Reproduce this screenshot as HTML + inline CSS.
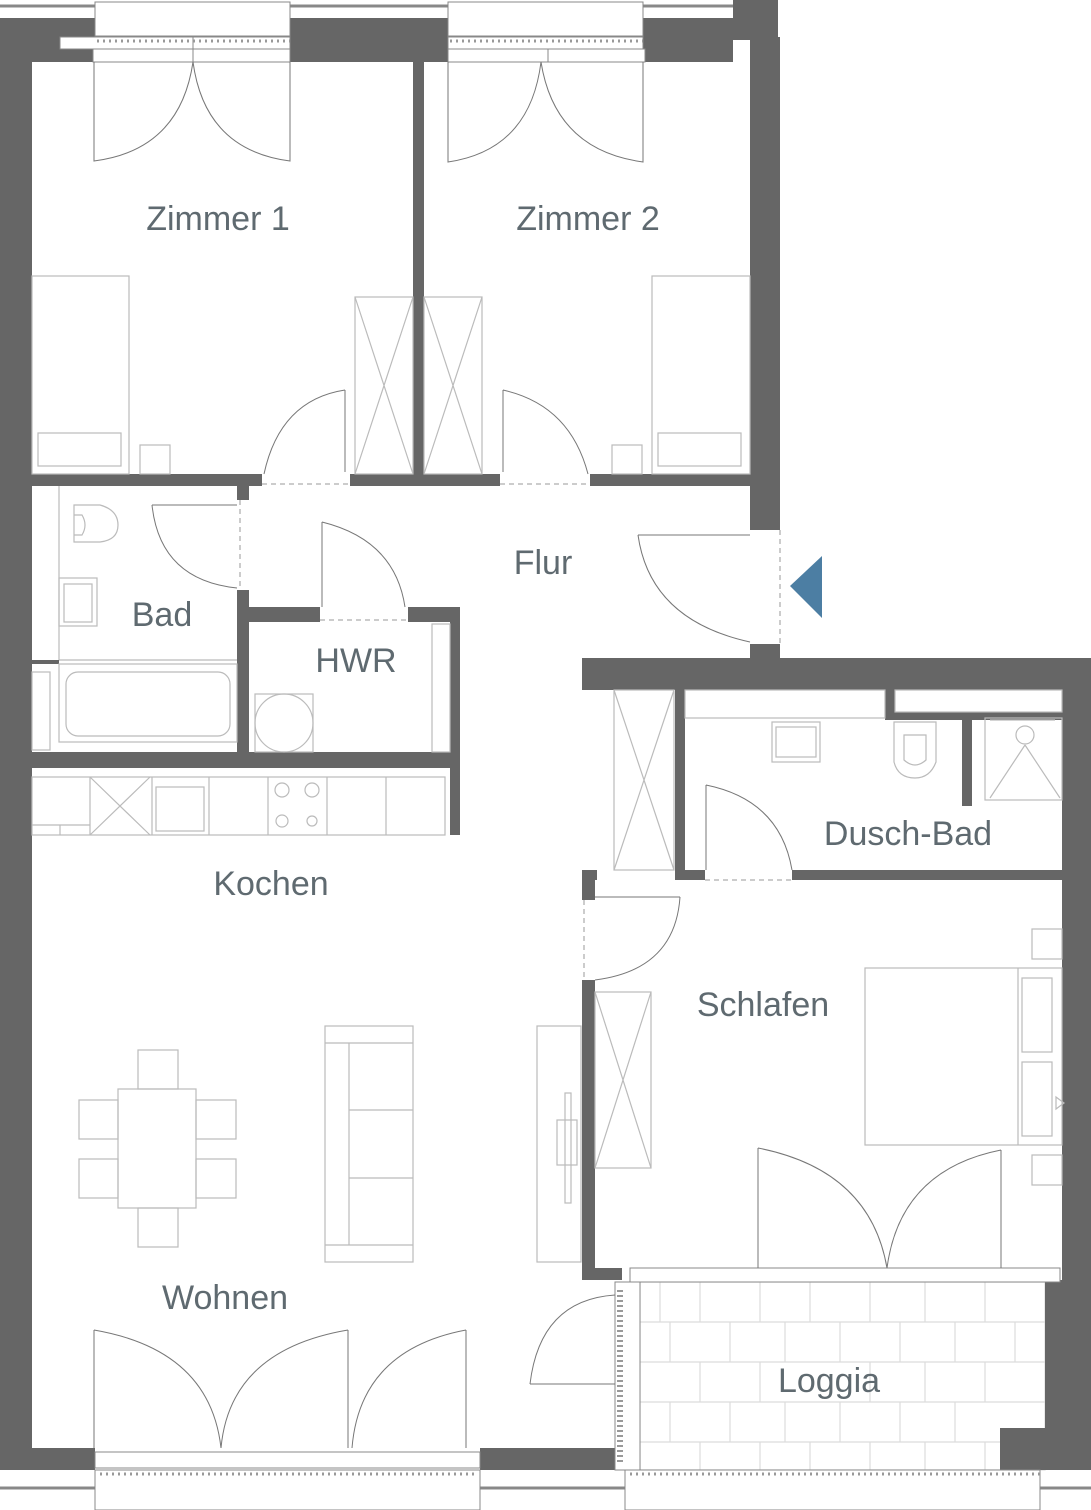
<!DOCTYPE html>
<html><head><meta charset="utf-8"><style>
html,body{margin:0;padding:0;background:#fff}
svg{display:block}
text{font-family:"Liberation Sans",sans-serif;font-size:34px;fill:#5f6a70;text-anchor:middle}
</style></head><body>
<svg width="1091" height="1510" viewBox="0 0 1091 1510" xmlns="http://www.w3.org/2000/svg">
<g fill="none" stroke="#dcdcdc" stroke-width="1.2">
<rect x="640" y="1282" width="405" height="188" fill="#fff"/>
<line x1="640" y1="1322" x2="1045" y2="1322"/><line x1="640" y1="1362" x2="1045" y2="1362"/>
<line x1="640" y1="1402" x2="1045" y2="1402"/><line x1="640" y1="1442" x2="1045" y2="1442"/>
<line x1="660" y1="1282" x2="660" y2="1322"/><line x1="700" y1="1282" x2="700" y2="1322"/><line x1="760" y1="1282" x2="760" y2="1322"/><line x1="810" y1="1282" x2="810" y2="1322"/><line x1="870" y1="1282" x2="870" y2="1322"/><line x1="925" y1="1282" x2="925" y2="1322"/><line x1="985" y1="1282" x2="985" y2="1322"/>
<line x1="670" y1="1322" x2="670" y2="1362"/><line x1="730" y1="1322" x2="730" y2="1362"/><line x1="785" y1="1322" x2="785" y2="1362"/><line x1="840" y1="1322" x2="840" y2="1362"/><line x1="900" y1="1322" x2="900" y2="1362"/><line x1="955" y1="1322" x2="955" y2="1362"/><line x1="1015" y1="1322" x2="1015" y2="1362"/>
<line x1="700" y1="1362" x2="700" y2="1402"/><line x1="760" y1="1362" x2="760" y2="1402"/><line x1="870" y1="1362" x2="870" y2="1402"/><line x1="925" y1="1362" x2="925" y2="1402"/><line x1="985" y1="1362" x2="985" y2="1402"/>
<line x1="670" y1="1402" x2="670" y2="1442"/><line x1="730" y1="1402" x2="730" y2="1442"/><line x1="785" y1="1402" x2="785" y2="1442"/><line x1="840" y1="1402" x2="840" y2="1442"/><line x1="900" y1="1402" x2="900" y2="1442"/><line x1="955" y1="1402" x2="955" y2="1442"/>
<line x1="700" y1="1442" x2="700" y2="1470"/><line x1="760" y1="1442" x2="760" y2="1470"/><line x1="810" y1="1442" x2="810" y2="1470"/><line x1="870" y1="1442" x2="870" y2="1470"/><line x1="925" y1="1442" x2="925" y2="1470"/><line x1="985" y1="1442" x2="985" y2="1470"/>
</g>

<g fill="#666">
<rect x="0" y="18" width="95" height="44"/>
<rect x="290" y="18" width="158" height="44"/>
<rect x="643" y="18" width="90" height="44"/>
<rect x="733" y="0" width="45" height="40"/>
<rect x="0" y="18" width="32" height="1452"/>
<rect x="750" y="37" width="30" height="493"/>
<rect x="750" y="644" width="30" height="46"/>
<rect x="413" y="62" width="11" height="412"/>
<rect x="32" y="474" width="230" height="12"/>
<rect x="350" y="474" width="150" height="12"/>
<rect x="590" y="474" width="190" height="12"/>
<rect x="237" y="486" width="12" height="14"/>
<rect x="237" y="590" width="12" height="170"/>
<rect x="249" y="607" width="71" height="15"/>
<rect x="408" y="607" width="52" height="15"/>
<rect x="450" y="607" width="10" height="228"/>
<rect x="32" y="752" width="428" height="16"/>
<rect x="32" y="660" width="27" height="4"/>
<rect x="582" y="658" width="509" height="32"/>
<rect x="1062" y="658" width="29" height="625"/>
<rect x="675" y="690" width="10" height="180"/>
<rect x="885" y="690" width="10" height="28"/>
<rect x="885" y="712" width="177" height="8"/>
<rect x="962" y="718" width="10" height="88"/>
<rect x="582" y="870" width="15" height="10"/>
<rect x="675" y="870" width="30" height="10"/>
<rect x="792" y="870" width="270" height="10"/>
<rect x="582" y="870" width="13" height="30"/>
<rect x="582" y="980" width="13" height="300"/>
<rect x="582" y="1268" width="40" height="12"/>
<rect x="1045" y="1280" width="46" height="190"/>
<rect x="1000" y="1428" width="91" height="42"/>
<rect x="0" y="1448" width="95" height="22"/>
<rect x="480" y="1448" width="135" height="22"/>
</g>
<g stroke="#888" stroke-width="3" fill="none">
<line x1="0" y1="1488" x2="95" y2="1488"/><line x1="480" y1="1488" x2="625" y2="1488"/>
<line x1="1040" y1="1488" x2="1091" y2="1488"/>
<line x1="290" y1="6" x2="448" y2="6"/><line x1="643" y1="6" x2="733" y2="6"/><line x1="0" y1="6" x2="95" y2="6"/>
</g>

<g fill="#fff" stroke="#888" stroke-width="1">
<rect x="95" y="2" width="195" height="34"/>
<rect x="448" y="2" width="195" height="34"/>
<rect x="60" y="37" width="133" height="12"/><rect x="193" y="37" width="97" height="12"/>
<rect x="93" y="49" width="100" height="13"/><rect x="193" y="49" width="97" height="13"/>
<rect x="448" y="37" width="195" height="12"/>
<rect x="448" y="49" width="100" height="13"/><rect x="548" y="49" width="97" height="13"/>
<rect x="95" y="1452" width="385" height="16"/>
<rect x="95" y="1470" width="385" height="40"/>
<rect x="625" y="1470" width="415" height="40"/>
<rect x="630" y="1268" width="430" height="14"/>
<rect x="615" y="1282" width="25" height="188"/>
</g>
<g stroke="#999" stroke-width="1">
<line x1="620" y1="1290" x2="620" y2="1465" stroke-dasharray="2 3" stroke-width="6"/>
<line x1="100" y1="1474" x2="478" y2="1474" stroke-dasharray="2 4" stroke-width="3"/>
<line x1="630" y1="1474" x2="1040" y2="1474" stroke-dasharray="2 4" stroke-width="3"/>
<line x1="97" y1="41" x2="290" y2="41" stroke-dasharray="2 4" stroke-width="3"/>
<line x1="450" y1="41" x2="643" y2="41" stroke-dasharray="2 4" stroke-width="3"/>
</g>

<g fill="none" stroke="#777" stroke-width="1">
<path d="M94 62 V161 Q180 150 193 62"/><path d="M290 62 V161 Q205 150 193 62"/>
<path d="M448 62 V162 Q530 150 541 62"/><path d="M643 62 V162 Q555 150 541 62"/>
<path d="M345 390 V472 M345 390 Q280 400 264 474"/>
<path d="M503 390 V472 M503 390 Q570 405 588 474"/>
<path d="M152 505 H237 M152 505 Q160 580 237 588"/>
<path d="M322 522 V607 M322 522 Q395 540 405 607"/>
<path d="M638 535 H750 M638 535 Q650 620 750 642"/>
<path d="M706 785 V870 M706 785 Q780 800 792 870"/>
<path d="M595 897 H680 M680 897 Q675 970 595 980"/>
<path d="M758 1148 V1268 M758 1148 Q870 1170 887 1268"/>
<path d="M1001 1150 V1268 M1001 1150 Q900 1170 887 1268"/>
<path d="M94 1330 V1448 M94 1330 Q210 1350 221 1448"/>
<path d="M348 1330 V1448 M348 1330 Q230 1350 221 1448"/>
<path d="M466 1330 V1448 M466 1330 Q360 1350 352 1448"/>
<path d="M530 1384 H615 M615 1295 Q540 1300 530 1384"/>
</g>
<g fill="none" stroke="#999" stroke-width="1" stroke-dasharray="5 4">
<line x1="262" y1="484" x2="350" y2="484"/><line x1="500" y1="484" x2="590" y2="484"/>
<line x1="240" y1="500" x2="240" y2="590"/><line x1="320" y1="620" x2="408" y2="620"/>
<line x1="780" y1="530" x2="780" y2="644"/><line x1="705" y1="880" x2="792" y2="880"/>
<line x1="584" y1="900" x2="584" y2="980"/>
</g>
<g fill="none" stroke="#bbb" stroke-width="1.2">
<rect x="32" y="276" width="97" height="198"/><rect x="38" y="433" width="83" height="33"/><rect x="140" y="445" width="30" height="29"/>
<rect x="652" y="276" width="98" height="198"/><rect x="658" y="433" width="83" height="33"/><rect x="612" y="445" width="30" height="29"/>
<rect x="355" y="297" width="58" height="177"/><path d="M355 297 L413 474 M413 297 L355 474"/>
<rect x="424" y="297" width="58" height="177"/><path d="M424 297 L482 474 M482 297 L424 474"/>
<rect x="614" y="690" width="60" height="180"/><path d="M614 690 L674 870 M674 690 L614 870"/>
<rect x="595" y="992" width="56" height="176"/><path d="M595 992 L651 1168 M651 992 L595 1168"/>
<path d="M59 486 V660 M59 660 H237"/>
<path d="M74 505 H100 Q118 510 118 525 Q118 540 100 542 H74 Z M74 515 H82 Q88 525 82 535 H74"/>
<rect x="59" y="578" width="38" height="48"/><rect x="64" y="584" width="28" height="38"/>
<rect x="59" y="664" width="178" height="78"/><rect x="66" y="672" width="164" height="64" rx="12"/>
<rect x="32" y="672" width="18" height="78"/>
<rect x="255" y="694" width="58" height="58"/><circle cx="284" cy="723" r="29"/>
<rect x="432" y="624" width="18" height="128"/>
<rect x="32" y="777" width="413" height="58"/>
<path d="M90 777 V835 M152 777 V835 M209 777 V835 M268 777 V835 M327 777 V835 M386 777 V835 M90 777 L150 835 M150 777 L90 835 M32 825 H90 M60 825 V835"/>
<rect x="156" y="787" width="48" height="44"/>
<circle cx="282" cy="790" r="7"/><circle cx="312" cy="790" r="7"/><circle cx="282" cy="821" r="6"/><circle cx="312" cy="821" r="5"/>
<rect x="118" y="1089" width="78" height="119"/>
<rect x="138" y="1050" width="40" height="39"/><rect x="138" y="1208" width="40" height="39"/>
<rect x="79" y="1100" width="39" height="39"/><rect x="79" y="1159" width="39" height="39"/>
<rect x="196" y="1100" width="40" height="39"/><rect x="196" y="1159" width="40" height="39"/>
<rect x="325" y="1026" width="88" height="236"/><path d="M325 1043 H413 M325 1245 H413 M349 1043 V1245 M349 1110 H413 M349 1178 H413"/>
<rect x="537" y="1026" width="44" height="236"/><rect x="557" y="1120" width="20" height="45"/><rect x="565" y="1093" width="6" height="110"/>
<rect x="685" y="690" width="200" height="28"/><rect x="895" y="690" width="167" height="22"/>
<rect x="772" y="722" width="48" height="40"/><rect x="776" y="727" width="40" height="30"/>
<path d="M894 722 H936 V762 Q930 778 915 778 Q898 778 894 762 Z M904 735 H926 V760 Q915 770 904 760 Z"/>
<rect x="985" y="718" width="77" height="82"/><circle cx="1025" cy="735" r="9"/><path d="M1025 745 L990 798 M1025 745 L1060 798 M990 720 H1055"/>
<rect x="865" y="968" width="197" height="177"/><path d="M1018 968 V1145"/>
<rect x="1022" y="978" width="30" height="74"/><rect x="1022" y="1062" width="30" height="74"/>
<rect x="1032" y="929" width="30" height="30"/><rect x="1032" y="1155" width="30" height="30"/>
<path d="M1056 1097 L1064 1103 L1056 1109 Z"/>
</g>
<polygon points="790,586 822,556 822,618" fill="#4c7ea3"/>
<text x="218" y="230">Zimmer 1</text>
<text x="588" y="230">Zimmer 2</text>
<text x="543" y="574">Flur</text>
<text x="162" y="626">Bad</text>
<text x="356" y="672">HWR</text>
<text x="908" y="845">Dusch-Bad</text>
<text x="271" y="895">Kochen</text>
<text x="763" y="1016">Schlafen</text>
<text x="225" y="1309">Wohnen</text>
<text x="829" y="1392">Loggia</text>
</svg>
</body></html>
